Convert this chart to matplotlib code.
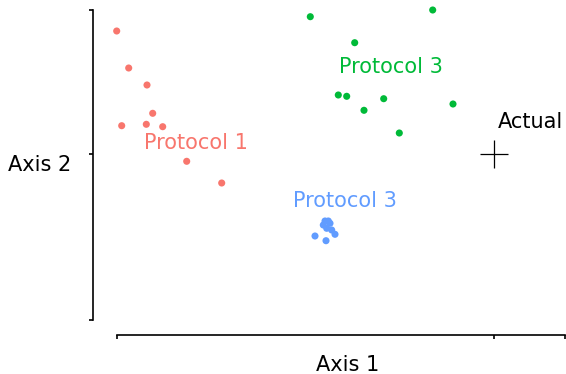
import matplotlib
matplotlib.use("Agg")
import matplotlib.pyplot as plt
import numpy as np

# pixel-derived data (units: x 0 at left tick, 1 at Actual; y 0 at Actual, 1 at top tick)
p1_x = [116.7, 128.7, 147.0, 152.7, 121.7, 146.3, 162.7, 186.7, 221.7]
p1_y = [31.0, 68.0, 85.0, 113.3, 125.7, 124.3, 126.7, 161.3, 183.0]
p3g_x = [310.3, 432.7, 354.7, 338.3, 346.7, 383.7, 364.0, 399.3, 453.0]
p3g_y = [16.7, 10.0, 42.7, 95.0, 96.3, 98.7, 110.3, 133.0, 104.0]
p3b_x = [325.0, 328.3, 330.0, 323.3, 326.7, 331.7, 335.0, 315.0, 326.0]
p3b_y = [221.0, 221.0, 223.3, 225.0, 228.3, 230.0, 234.3, 236.0, 240.7]
actual = (494.0, 154.0)
x_ticks = [117.0, 494.0, 565.0]
y_ticks = [10.0, 154.0, 320.0]

def tx(v):
    return (np.asarray(v) - 117.0) / 377.0

def ty(v):
    return (154.0 - np.asarray(v)) / 144.0

W, H = 566, 374
fig = plt.figure(figsize=(W / 100, H / 100), dpi=100)
L, R, T, B = 107, 566, 5, 321
ax = fig.add_axes([L / W, 1 - B / H, (R - L) / W, (B - T) / H])
ax.set_xlim(tx(L), tx(R))
ax.set_ylim(ty(B), ty(T))

ms = 26
ax.scatter(tx(p1_x), ty(p1_y), s=ms, color="#F8766D", edgecolors="none")
ax.scatter(tx(p3g_x), ty(p3g_y), s=ms, color="#00BA38", edgecolors="none")
ax.scatter(tx(p3b_x), ty(p3b_y), s=ms, color="#619CFF", edgecolors="none")
ax.plot(tx(actual[0]), ty(actual[1]), marker="+", color="black", markersize=20, markeredgewidth=0.9, linestyle="none")

fs = 15
ax.text(tx(144), ty(143), "Protocol 1", color="#F8766D", fontsize=fs, ha="left", va="center")
ax.text(tx(391), ty(67), "Protocol 3", color="#00BA38", fontsize=fs, ha="center", va="center")
ax.text(tx(345), ty(201), "Protocol 3", color="#619CFF", fontsize=fs, ha="center", va="center")
ax.text(tx(498), ty(122), "Actual", color="black", fontsize=fs, ha="left", va="center")

ax.set_xticks(tx(x_ticks))
ax.set_yticks(ty(y_ticks))
ax.set_xticklabels([])
ax.set_yticklabels([])
ax.tick_params(length=3, width=1.2)
for s in ["top", "right"]:
    ax.spines[s].set_visible(False)
ax.spines["left"].set_position(("outward", 10))
ax.spines["bottom"].set_position(("outward", 10))
ax.spines["left"].set_bounds(ty(y_ticks[2]), ty(y_ticks[0]))
ax.spines["bottom"].set_bounds(tx(x_ticks[0]), tx(x_ticks[2]))
ax.spines["left"].set_linewidth(1.2)
ax.spines["bottom"].set_linewidth(1.2)

fig.text(348 / W, 1 - 365 / H, "Axis 1", fontsize=fs, ha="center", va="center")
fig.text(40 / W, 1 - 165 / H, "Axis 2", fontsize=fs, ha="center", va="center")

fig.savefig("out.png", dpi=100)
